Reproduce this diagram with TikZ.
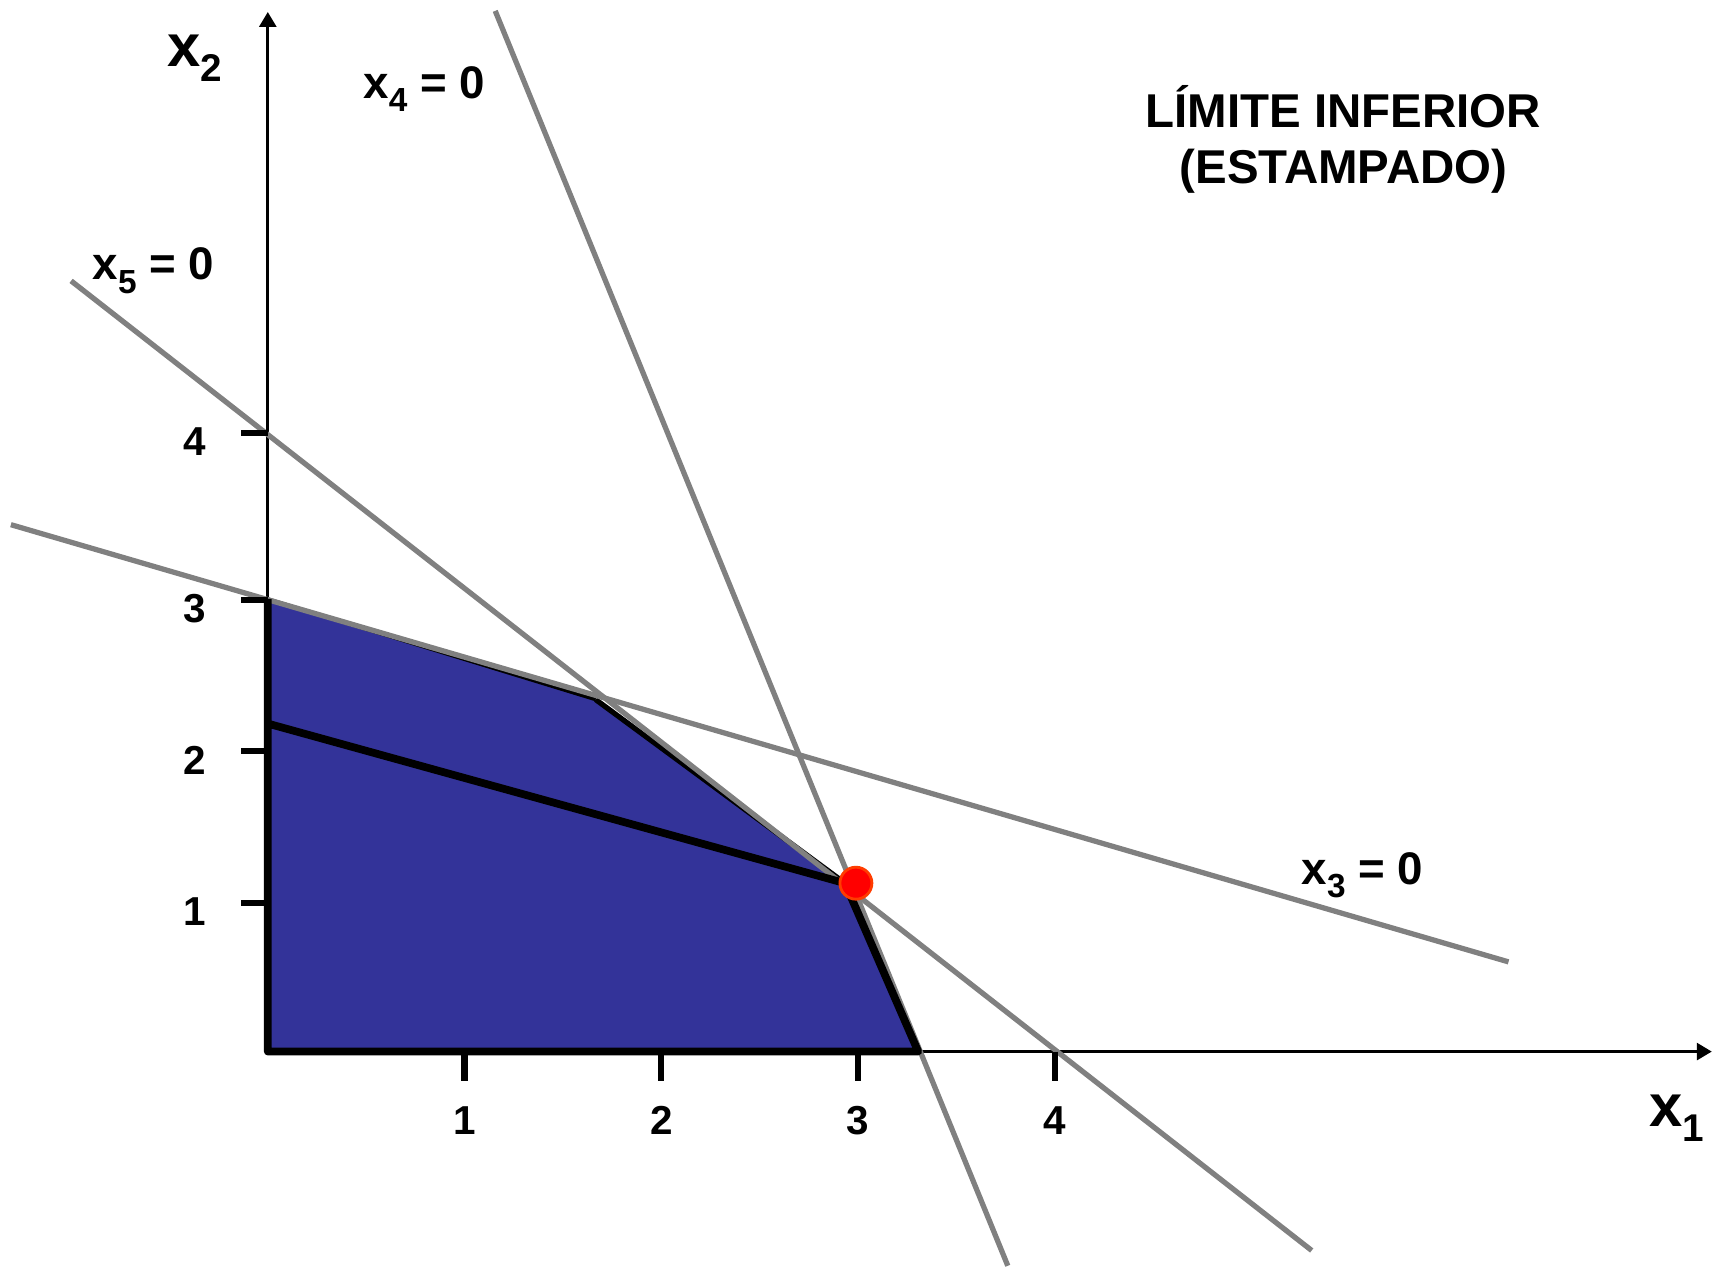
\documentclass[tikz,border=0pt]{standalone}
\usepackage{fontspec}
\setmainfont{Liberation Sans}
\usepackage{tikz}
\usetikzlibrary{arrows.meta}
\definecolor{azulR}{RGB}{51,51,153}
\definecolor{grisL}{RGB}{128,128,128}
\definecolor{rojoP}{RGB}{255,0,0}
\definecolor{bordeP}{RGB}{255,60,0}
\newcommand{\varsub}[1]{x\raisebox{-3.8pt}{\fontsize{9.5}{10}\selectfont #1}}
\newcommand{\ejesub}[1]{x\raisebox{-4.3pt}{\fontsize{11}{12}\selectfont #1}}
\tikzset{
  eje/.style={line width=0.8pt, -{Triangle[length=1.5mm, width=1.7mm]}},
  marca/.style={line width=1.8pt},
  recta/.style={line width=1.5pt, draw=grisL},
  borde/.style={line width=2.2pt, line join=round},
  etiq/.style={anchor=base, inner sep=0pt, font=\fontsize{13}{13}\selectfont\bfseries},
  numero/.style={inner sep=0pt, font=\fontsize{11.5}{12}\selectfont\bfseries},
}

\begin{document}
\begin{tikzpicture}
\useasboundingbox (0,0) rectangle (17.14,12.68);
\coordinate (O) at (2.678,2.164);
\coordinate (B) at (2.678,6.690);
\coordinate (C) at (5.957,5.684);
\coordinate (D) at (8.450,3.848);
\coordinate (E) at (9.182,2.164);
\coordinate (F) at (2.678,5.444);
\coordinate (xfin) at (17.118,2.164);
\coordinate (yfin) at (2.678,12.560);
\coordinate (r4a) at (4.952,12.571);
\coordinate (r4b) at (10.078,0.022);
\coordinate (r5a) at (0.711,9.871);
\coordinate (r5b) at (13.117,0.175);
\coordinate (r3a) at (0.109,7.433);
\coordinate (r3b) at (15.085,3.061);
\fill[azulR] (O) -- (B) -- (C) -- (D) -- (E) -- cycle;
\draw[line width=1pt] (B) -- (C);
\draw[line width=1.5pt] (C) -- (D);
\draw[eje] (O) -- (xfin);
\draw[eje] (O) -- (yfin);
\draw[recta] (r4a) -- (r4b);
\draw[recta] (r5a) -- (r5b);
\draw[recta] (r3a) -- (r3b);
\draw[borde] (B) -- (O) -- (E) -- (D) -- (F);
\foreach \x/\n in {4.646/1, 6.613/2, 8.581/3, 10.548/4} {
  \draw[marca] (\x,2.164) -- (\x,1.874);
  \node[numero] (tx\n) at (\x,1.476) {\n};
}
\foreach \y/\n in {3.651/1, 5.170/2, 6.679/3, 8.351/4} {
  \draw[marca] (2.678,\y) -- (2.405,\y);
  \node[numero] (ty\n) at (1.95,\y-0.09) {\n};
}
\node[circle, fill=rojoP, draw=bordeP, line width=0.8pt, minimum size=3.2mm, inner sep=0pt] (opt) at (8.559,3.848) {};
\node[anchor=base, inner sep=0pt, font=\fontsize{17}{17}\selectfont\bfseries] (lx2) at (1.950,12.013) {\ejesub{2}};
\node[anchor=base, inner sep=0pt, font=\fontsize{17}{17}\selectfont\bfseries] (lx1) at (16.768,1.413) {\ejesub{1}};
\node[etiq] (lx4) at (4.241,11.696) {\varsub{4} = 0};
\node[etiq] (lx5) at (1.534,9.882) {\varsub{5} = 0};
\node[etiq] (lx3) at (13.625,3.837) {\varsub{3} = 0};
\node[anchor=base, inner sep=0pt, font=\fontsize{13.5}{14}\selectfont\bfseries] (tit1) at (13.434,11.401) {LÍMITE INFERIOR};
\node[anchor=base, inner sep=0pt, font=\fontsize{13.5}{14}\selectfont\bfseries] (tit2) at (13.434,10.844) {(ESTAMPADO)};
\end{tikzpicture}
\end{document}
